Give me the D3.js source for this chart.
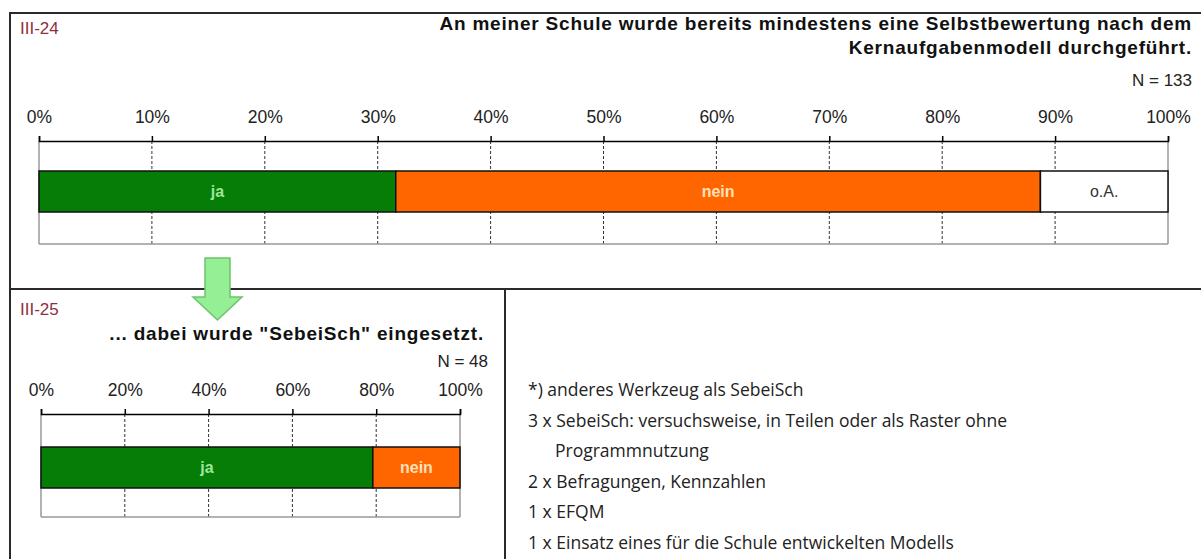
<!DOCTYPE html>
<html>
<head>
    <title>Selbstbewertung Kernaufgabenmodell</title>
</head>
<meta charset="utf-8">
<style>
body {
    margin: 0;
    background: #fff;
}

.axis path,
.axis line {
    fill: none;
    stroke: #000;
    stroke-width: 1.5px;
}

.axis text {
    font: 17.5px "Liberation Sans", Arial, sans-serif;
    fill: #222;
}

.frame {
    stroke: #2a2a2a;
    stroke-width: 2px;
}

.grid {
    stroke: #333;
    stroke-width: 1px;
    stroke-dasharray: 3,2;
}

.edge {
    stroke: #999;
    stroke-width: 1.5px;
}

.title {
    font: bold 19px "Liberation Sans", Arial, sans-serif;
    letter-spacing: 0.8px;
    fill: #111;
}
</style>
<body>
    <script src="https://cdn.jsdelivr.net/npm/d3@7"></script>
    <script>
    // Data
    // ---
    var topCategories = ["ja", "nein", "o.A."];
    var topValues = [31.6, 57.1, 11.3];
    var topTicks = [0, 10, 20, 30, 40, 50, 60, 70, 80, 90, 100];

    var bottomCategories = ["ja", "nein"];
    var bottomValues = [79.2, 20.8];
    var bottomTicks = [0, 20, 40, 60, 80, 100];

    // lines starting with spaces are continuation lines (indented)
    var notes = [
        "*) anderes Werkzeug als SebeiSch",
        "3 x SebeiSch: versuchsweise, in Teilen oder als Raster ohne",
        "   Programmnutzung",
        "2 x Befragungen, Kennzahlen",
        "1 x EFQM",
        "1 x Einsatz eines für die Schule entwickelten Modells"
    ];
    // ---

    var fills = {"ja": "#067d06", "nein": "#ff6600", "o.A.": "#ffffff"};
    var labelColors = {"ja": "#9be89b", "nein": "#ffe0b8", "o.A.": "#333"};

    var width = 1201,
    height = 559;

    var svg = d3.select("body").append("svg")
    .attr("width", width)
    .attr("height", height)
    .style("display", "block");

    svg.append("rect")
    .attr("width", width)
    .attr("height", height)
    .style("fill", "#fff");

    // one stacked percent bar with axis on top and dashed grid
    function drawBar(opts) {
        var x = d3.scaleLinear().domain([0, 100]).range(opts.range);
        var g = svg.append("g");

        // grid lines
        g.selectAll(".grid")
        .data(opts.ticks.slice(1, -1))
        .enter().append("line")
        .attr("class", "grid")
        .attr("x1", function(d) { return x(d); })
        .attr("x2", function(d) { return x(d); })
        .attr("y1", opts.axisY)
        .attr("y2", opts.bottomY);

        // left, right and bottom edges of the plot area
        [0, 100].forEach(function(v) {
            g.append("line")
            .attr("class", "edge")
            .attr("x1", x(v)).attr("x2", x(v))
            .attr("y1", opts.axisY).attr("y2", opts.bottomY);
        });
        g.append("line")
        .attr("class", "edge")
        .attr("x1", x(0)).attr("x2", x(100))
        .attr("y1", opts.bottomY).attr("y2", opts.bottomY);

        // axis
        g.append("g")
        .attr("class", "axis")
        .attr("transform", "translate(0," + opts.axisY + ")")
        .call(d3.axisTop(x)
            .tickValues(opts.ticks)
            .tickSize(5)
            .tickPadding(13)
            .tickFormat(function(d) { return d + "%"; }));

        // stacked segments
        var stack = [];
        var acc = 0;
        opts.categories.forEach(function(c, i) {
            stack.push({cat: c, x0: acc, x1: acc + opts.values[i]});
            acc += opts.values[i];
        });

        g.selectAll(".seg")
        .data(stack)
        .enter().append("rect")
        .attr("class", "seg")
        .attr("x", function(d) { return x(d.x0); })
        .attr("width", function(d) { return x(d.x1) - x(d.x0); })
        .attr("y", opts.barY)
        .attr("height", opts.barH)
        .style("fill", function(d) { return fills[d.cat]; })
        .style("stroke", "#111")
        .style("stroke-width", "1.5px");

        g.selectAll(".seglabel")
        .data(stack)
        .enter().append("text")
        .attr("x", function(d) { return (x(d.x0) + x(d.x1)) / 2; })
        .attr("y", opts.barY + opts.barH / 2)
        .attr("dy", ".35em")
        .style("text-anchor", "middle")
        .style("font", function(d) {
            return (d.cat == "o.A." ? "normal " : "bold ") + "16px 'Liberation Sans', Arial, sans-serif";
        })
        .style("fill", function(d) { return labelColors[d.cat]; })
        .text(function(d) { return d.cat; });
    }

    // frame
    svg.append("line").attr("class", "frame").attr("x1", 10).attr("x2", width).attr("y1", 13).attr("y2", 13);
    svg.append("line").attr("class", "frame").attr("x1", 10).attr("x2", 10).attr("y1", 12).attr("y2", height);
    svg.append("line").attr("class", "frame").attr("x1", 10).attr("x2", width).attr("y1", 289).attr("y2", 289);
    svg.append("line").attr("class", "frame").attr("x1", 505).attr("x2", 505).attr("y1", 289).attr("y2", height);

    // top section
    svg.append("text")
    .attr("x", 20).attr("y", 34)
    .style("font", "17px 'Liberation Sans', Arial, sans-serif")
    .style("fill", "#8e2f3e")
    .text("III-24");

    svg.append("text")
    .attr("class", "title")
    .attr("x", 1192).attr("y", 30)
    .style("text-anchor", "end")
    .text("An meiner Schule wurde bereits mindestens eine Selbstbewertung nach dem");

    svg.append("text")
    .attr("class", "title")
    .attr("x", 1192).attr("y", 54)
    .style("text-anchor", "end")
    .text("Kernaufgabenmodell durchgeführt.");

    svg.append("text")
    .attr("x", 1192).attr("y", 86)
    .style("text-anchor", "end")
    .style("font", "17px 'Liberation Sans', Arial, sans-serif")
    .style("fill", "#222")
    .text("N = 133");

    drawBar({
        categories: topCategories, values: topValues, ticks: topTicks,
        range: [39, 1168], axisY: 141, barY: 171, barH: 41, bottomY: 244
    });

    // bottom left section
    svg.append("text")
    .attr("x", 20).attr("y", 315)
    .style("font", "17px 'Liberation Sans', Arial, sans-serif")
    .style("fill", "#8e2f3e")
    .text("III-25");

    svg.append("text")
    .attr("class", "title")
    .attr("x", 484).attr("y", 340)
    .style("text-anchor", "end")
    .text("... dabei wurde \"SebeiSch\" eingesetzt.");

    svg.append("text")
    .attr("x", 488).attr("y", 367)
    .style("text-anchor", "end")
    .style("font", "17px 'Liberation Sans', Arial, sans-serif")
    .style("fill", "#222")
    .text("N = 48");

    drawBar({
        categories: bottomCategories, values: bottomValues, ticks: bottomTicks,
        range: [41, 460], axisY: 414, barY: 447, barH: 41, bottomY: 517
    });

    // arrow from the top answer "ja" to the follow-up question
    svg.append("path")
    .attr("d", "M205,258 H230 V297 H242 L217.5,320 L193,297 H205 Z")
    .style("fill", "#95ef95")
    .style("stroke", "#6cc46c")
    .style("stroke-width", "1.5px");

    // notes on the right
    svg.selectAll(".note")
    .data(notes)
    .enter().append("text")
    .attr("class", "note")
    .attr("x", function(d) { return /^\s/.test(d) ? 555 : 528; })
    .attr("y", function(d, i) { return 396 + i * 30.6; })
    .style("font", "17.5px 'Open Sans', sans-serif")
    .style("fill", "#222")
    .text(function(d) { return d.trim(); });

</script>
</body>
</html>
